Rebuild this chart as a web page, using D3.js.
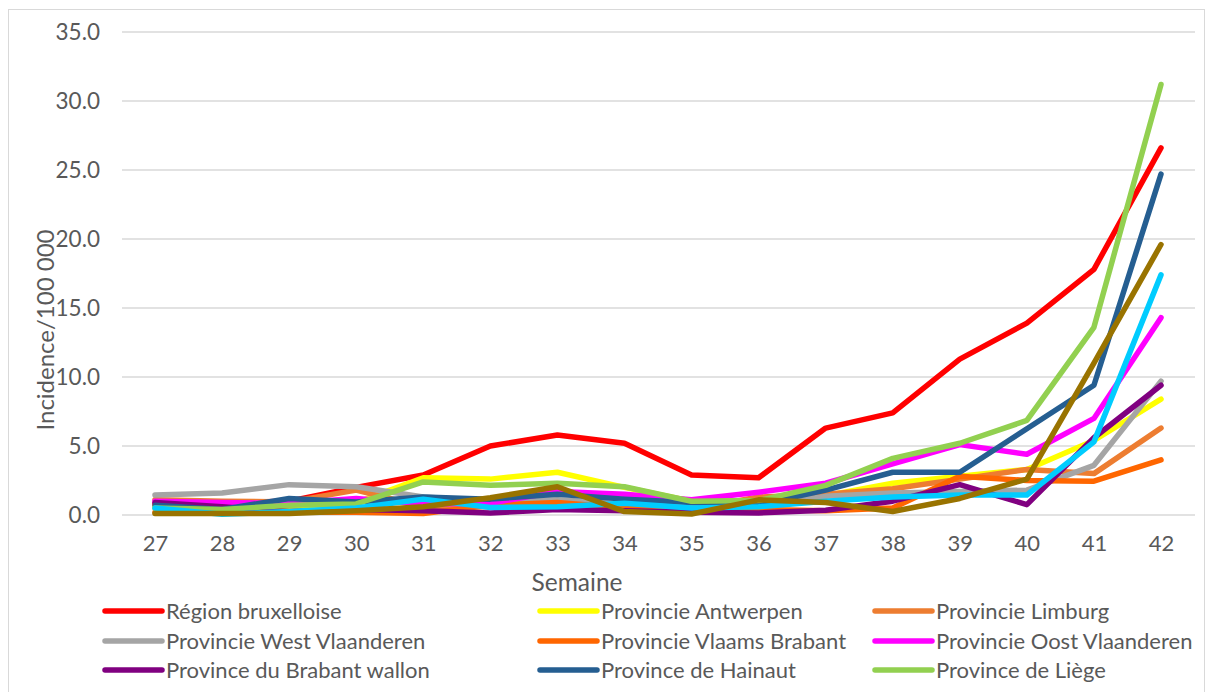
<!DOCTYPE html>
<html>
<head>
<meta charset="utf-8">
<script src="https://cdn.jsdelivr.net/npm/d3@7"></script>
<style>
  html, body { margin: 0; padding: 0; background: #ffffff; }
  svg { display: block; font-family: Lato, "Noto Sans", sans-serif; }
</style>
</head>
<body>
<svg id="chart" width="1208" height="692"></svg>
<script>
// Weekly incidence per 100 000 inhabitants, weeks 27 to 42
const weeks = [27, 28, 29, 30, 31, 32, 33, 34, 35, 36, 37, 38, 39, 40, 41, 42];
const yTicks = [0, 5, 10, 15, 20, 25, 30, 35];

const regionBruxelloise      = [0.8, 0.9, 1.0, 2.0, 2.9, 5.0, 5.8, 5.2, 2.9, 2.7, 6.3, 7.4, 11.3, 13.9, 17.8, 26.6];
const provincieAntwerpen     = [0.6, 0.5, 0.6, 0.9, 2.7, 2.6, 3.1, 2.0, 1.0, 1.0, 1.4, 2.3, 2.8, 3.3, 5.4, 8.4];
const provincieLimburg       = [1.1, 1.0, 0.95, 1.8, 0.6, 0.6, 0.9, 0.7, 0.4, 1.3, 1.5, 1.9, 2.6, 3.3, 3.0, 6.3];
const provincieWestVl        = [1.45, 1.6, 2.2, 2.05, 1.3, 1.0, 1.1, 0.8, 0.6, 0.7, 1.35, 1.6, 1.7, 1.8, 3.6, 9.7];
const provincieVlaamsBrabant = [0.2, 0.2, 0.2, 0.2, 0.1, 0.7, 0.9, 0.5, 0.3, 0.4, 0.3, 0.5, 2.8, 2.5, 2.45, 4.0];
const provincieOostVl        = [1.0, 0.9, 0.85, 1.2, 0.8, 0.85, 1.7, 1.5, 1.1, 1.65, 2.3, 3.7, 5.1, 4.4, 7.0, 14.3];
const provinceBrabantWallon  = [0.9, 0.6, 0.25, 0.4, 0.3, 0.15, 0.4, 0.3, 0.2, 0.15, 0.35, 1.0, 2.2, 0.75, 5.6, 9.4];
const provinceHainaut        = [0.7, 0.4, 1.2, 0.95, 1.3, 1.15, 1.5, 1.15, 0.9, 0.75, 1.8, 3.1, 3.1, 6.25, 9.4, 24.7];
const provinceLiege          = [0.5, 0.4, 0.7, 0.8, 2.4, 2.15, 2.3, 2.05, 1.0, 1.05, 2.15, 4.1, 5.2, 6.85, 13.6, 31.2];
const provinceLuxembourg     = [0.5, 0.05, 0.25, 0.5, 1.15, 0.55, 0.6, 0.85, 0.5, 0.6, 1.0, 1.3, 1.45, 1.45, 5.3, 17.4];
const provinceNamur          = [0.1, 0.1, 0.1, 0.3, 0.6, 1.25, 2.05, 0.25, 0.07, 1.1, 0.9, 0.25, 1.2, 2.6, 11.0, 19.6];

const seriesNames = [
  "Région bruxelloise", "Provincie Antwerpen", "Provincie Limburg",
  "Provincie West Vlaanderen", "Provincie Vlaams Brabant", "Provincie Oost Vlaanderen",
  "Province du Brabant wallon", "Province de Hainaut", "Province de Liège",
  "Province de Luxembourg", "Province de Namur"
];
const seriesValues = [
  regionBruxelloise, provincieAntwerpen, provincieLimburg,
  provincieWestVl, provincieVlaamsBrabant, provincieOostVl,
  provinceBrabantWallon, provinceHainaut, provinceLiege,
  provinceLuxembourg, provinceNamur
];
const seriesColors = [
  "#FF0000", "#FFFF00", "#ED7D31",
  "#A5A5A5", "#FF6600", "#FF00FF",
  "#800080", "#255E91", "#92D050",
  "#00CCFF", "#997300"
];

const svg = d3.select("#chart");
const textColor = "#595959";

// chart frame
svg.append("rect")
  .attr("x", 8.5).attr("y", 9.5)
  .attr("width", 1196).attr("height", 700)
  .attr("fill", "none").attr("stroke", "#D9D9D9").attr("stroke-width", 1);

const x = d3.scalePoint().domain(weeks).range([155, 1161]);
const y = d3.scaleLinear().domain([0, 35]).range([515, 32]);

// horizontal gridlines
svg.append("g")
  .selectAll("line")
  .data(yTicks)
  .join("line")
  .attr("x1", 122).attr("x2", 1195)
  .attr("y1", d => y(d)).attr("y2", d => y(d))
  .attr("stroke", "#D9D9D9").attr("stroke-width", 1.5);

// y axis labels
const yAxis = d3.axisLeft(y).tickValues(yTicks).tickFormat(d3.format(".1f")).tickSize(0).tickPadding(0);
svg.append("g")
  .attr("transform", "translate(100,0)")
  .call(yAxis)
  .call(g => g.select(".domain").remove())
  .call(g => g.selectAll("text")
    .attr("fill", textColor)
    .style("font-size", "22.5px")
    .style("font-family", "Lato, 'Noto Sans', sans-serif"));

// x axis labels
const xAxis = d3.axisBottom(x).tickSize(0).tickPadding(0);
svg.append("g")
  .attr("transform", "translate(0,535)")
  .call(xAxis)
  .call(g => g.select(".domain").remove())
  .call(g => g.selectAll("text")
    .attr("fill", textColor)
    .style("font-size", "22px")
    .style("font-family", "Lato, 'Noto Sans', sans-serif"));

// axis titles
svg.append("text")
  .attr("x", 577).attr("y", 591)
  .attr("text-anchor", "middle")
  .attr("fill", textColor)
  .style("font-size", "24.5px")
  .text("Semaine");

svg.append("text")
  .attr("transform", "translate(54,330) rotate(-90)")
  .attr("text-anchor", "middle")
  .attr("fill", textColor)
  .style("font-size", "24px")
  .text("Incidence/100 000");

// series lines
const line = d3.line()
  .x((d, i) => x(weeks[i]))
  .y(d => y(d));

svg.append("g")
  .selectAll("path")
  .data(seriesValues)
  .join("path")
  .attr("d", d => line(d))
  .attr("fill", "none")
  .attr("stroke", (d, i) => seriesColors[i])
  .attr("stroke-width", 5.5)
  .attr("stroke-linejoin", "round")
  .attr("stroke-linecap", "round");

// legend: three columns, first nine series
const legendCols = [105, 540, 875];
const legendRows = [611, 641, 670];
const legend = svg.append("g")
  .selectAll("g")
  .data(seriesNames.slice(0, 9))
  .join("g")
  .attr("transform", (d, i) => `translate(${legendCols[i % 3]},${legendRows[Math.floor(i / 3)]})`);

legend.append("line")
  .attr("x1", 0).attr("x2", 57)
  .attr("y1", 0).attr("y2", 0)
  .attr("stroke", (d, i) => seriesColors[i])
  .attr("stroke-width", 5.5)
  .attr("stroke-linecap", "round");

legend.append("text")
  .attr("x", 61).attr("y", 0)
  .attr("dy", "0.35em")
  .attr("fill", textColor)
  .style("font-size", "22px")
  .text(d => d);
</script>
</body>
</html>
